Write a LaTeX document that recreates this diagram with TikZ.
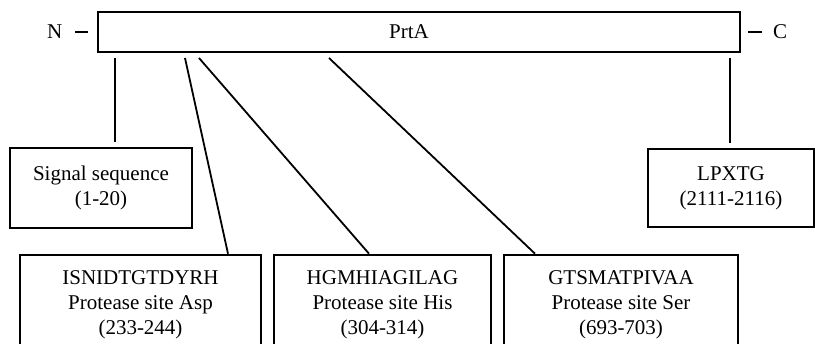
\documentclass[tikz,border=0pt]{standalone}
\usepackage{fontspec}
\setmainfont{Liberation Serif}
\usetikzlibrary{positioning, calc}

\begin{document}
\begin{tikzpicture}[x=1pt, y=-1pt,
    every node/.style={font=\fontsize{21}{25}\selectfont, inner sep=0pt},
    box/.style={draw, line width=2.6pt, align=center},
    link/.style={line width=1.8pt}]
  \clip (0,0) rectangle (815,344);
  % the protein
  \node[box, minimum width=642pt, minimum height=40pt] (prta) at (419,32) {PrtA\hspace{20pt}};
  \node[anchor=base west] (nterm) at (47,39) {N\hspace{13pt}\rule[5.8pt]{13pt}{2.6pt}};
  \node[anchor=base west] (cterm) at (748,39) {\rule[5.8pt]{14pt}{2.6pt}\hspace{11pt}C};
  % domains
  \node[box, minimum width=182pt, minimum height=80pt] (signal) at (101,188) {Signal sequence\\(1-20)};
  \node[box, minimum width=166pt, minimum height=78pt] (lpxtg) at (731,188) {LPXTG\\(2111-2116)};
  \node[box, minimum width=241pt, minimum height=100pt] (asp) at (140.5,305) {ISNIDTGTDYRH\\Protease site Asp\\(233-244)};
  \node[box, minimum width=217pt, minimum height=100pt] (his) at (382.5,305) {HGMHIAGILAG\\Protease site His\\(304-314)};
  \node[box, minimum width=234pt, minimum height=100pt] (ser) at (621,305) {GTSMATPIVAA\\Protease site Ser\\(693-703)};
  % where the lines leave the protein
  \coordinate (c1) at (115,58);
  \coordinate (c2) at (185,58);
  \coordinate (c3) at (199,58);
  \coordinate (c4) at (329,58);
  \coordinate (c5) at (730,58);
  \draw[link, shorten >=5pt] (c1) -- (c1 |- signal.north);
  \draw[link] (c2) -- ([xshift=87.5pt]asp.north);
  \draw[link] (c3) -- ([xshift=-13.5pt]his.north);
  \draw[link] (c4) -- ([xshift=-86pt]ser.north);
  \draw[link, shorten >=5pt] (c5) -- (c5 |- lpxtg.north);
\end{tikzpicture}
\end{document}
